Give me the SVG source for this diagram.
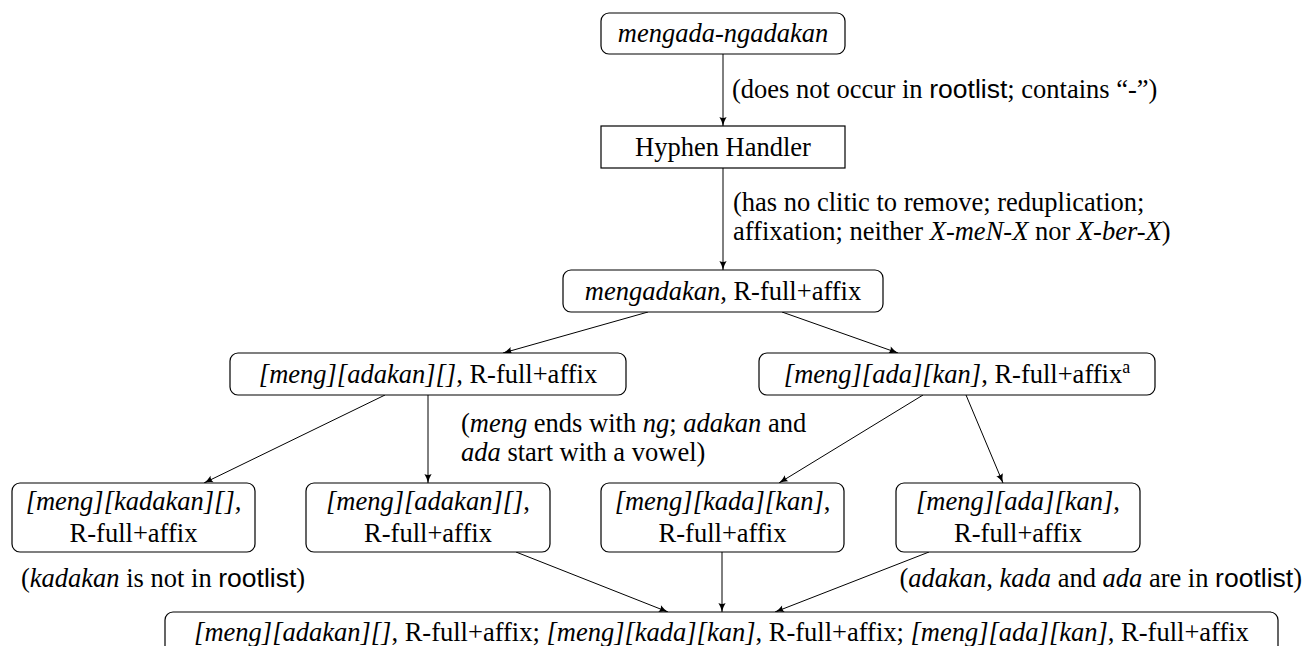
<svg xmlns="http://www.w3.org/2000/svg" width="1305" height="646" viewBox="0 0 1305 646">
<style>
text{font-family:'Liberation Serif','Times New Roman',serif;font-size:26.5px;fill:#000}
.c{text-anchor:middle}
.i{font-style:italic}
.s{font-family:'Liberation Sans',Arial,sans-serif}
.sup{font-size:18px}
.box{fill:#fff;stroke:#000;stroke-width:1.2}
.edge{fill:none;stroke:#000;stroke-width:1;marker-end:url(#ah)}
</style>
<defs>
<marker id="ah" markerUnits="userSpaceOnUse" markerWidth="12" markerHeight="10" refX="9" refY="0" viewBox="-1 -5 11 10" orient="auto">
<path d="M0,-3.6 Q4,-1 9,0 Q4,1 0,3.6 Q2,0 0,-3.6 z" fill="#000"/>
</marker>
</defs>
<rect width="1305" height="646" fill="#fff"/>
<g id="connectors">
<line class="edge" x1="723" y1="54" x2="723" y2="126"/>
<line class="edge" x1="723" y1="168" x2="723" y2="270"/>
<line class="edge" x1="648" y1="312" x2="503" y2="353"/>
<line class="edge" x1="782" y1="312" x2="898" y2="353"/>
<line class="edge" x1="385" y1="395" x2="204" y2="483"/>
<line class="edge" x1="428" y1="395" x2="428" y2="483"/>
<line class="edge" x1="923" y1="395" x2="779" y2="483"/>
<line class="edge" x1="966" y1="395" x2="1003" y2="483"/>
<line class="edge" x1="516" y1="552" x2="668" y2="612"/>
<line class="edge" x1="722" y1="552" x2="722" y2="612"/>
<line class="edge" x1="929" y1="552" x2="775" y2="612"/>
</g>
<g id="labels">
<text x="732" y="98">(does not occur in <tspan class="s">rootlist</tspan>; contains “-”)</text>
<text x="733" y="211">(has no clitic to remove; reduplication;</text>
<text x="733" y="240">affixation; neither <tspan class="i">X-meN-X</tspan> nor <tspan class="i">X-ber-X</tspan>)</text>
<text x="461" y="432">(<tspan class="i">meng</tspan> ends with <tspan class="i">ng</tspan>; <tspan class="i">adakan</tspan> and</text>
<text x="461" y="461"><tspan class="i">ada</tspan> start with a vowel)</text>
<text x="21" y="587">(<tspan class="i">kadakan</tspan> is not in <tspan class="s">rootlist</tspan>)</text>
<text x="1302" y="587" text-anchor="end">(<tspan class="i">adakan</tspan>, <tspan class="i">kada</tspan> and <tspan class="i">ada</tspan> are in <tspan class="s">rootlist</tspan>)</text>
</g>
<g id="n0">
<rect class="box" x="601" y="13" width="244" height="41" rx="8"/>
<text class="c i" x="723" y="42">mengada-ngadakan</text>
</g>
<g id="n1">
<rect class="box" x="601" y="126" width="244" height="42"/>
<text class="c" x="723" y="155.5">Hyphen Handler</text>
</g>
<g id="n2">
<rect class="box" x="563" y="270" width="320" height="42" rx="8"/>
<text class="c" x="723" y="299.5"><tspan class="i">mengadakan</tspan>, R-full+affix</text>
</g>
<g id="n3">
<rect class="box" x="230" y="353" width="396" height="42" rx="8"/>
<text class="c" x="428" y="382.5"><tspan class="i">[meng][adakan][]</tspan>, R-full+affix</text>
</g>
<g id="n4">
<rect class="box" x="759" y="353" width="396" height="42" rx="8"/>
<text class="c" x="957" y="382.5"><tspan class="i">[meng][ada][kan]</tspan>, R-full+affix<tspan class="sup" dy="-10">a</tspan></text>
</g>
<g id="n5">
<rect class="box" x="12" y="483" width="243" height="69" rx="8"/>
<text class="c i" x="133.5" y="509.5">[meng][kadakan][],</text>
<text class="c" x="133.5" y="541.5">R-full+affix</text>
</g>
<g id="n6">
<rect class="box" x="306" y="483" width="244" height="69" rx="8"/>
<text class="c" x="428" y="509.5"><tspan class="i">[meng][adakan][]</tspan>,</text>
<text class="c" x="428" y="541.5">R-full+affix</text>
</g>
<g id="n7">
<rect class="box" x="601" y="483" width="243" height="69" rx="8"/>
<text class="c" x="722.5" y="509.5"><tspan class="i">[meng][kada][kan]</tspan>,</text>
<text class="c" x="722.5" y="541.5">R-full+affix</text>
</g>
<g id="n8">
<rect class="box" x="896" y="483" width="244" height="69" rx="8"/>
<text class="c" x="1018" y="509.5"><tspan class="i">[meng][ada][kan]</tspan>,</text>
<text class="c" x="1018" y="541.5">R-full+affix</text>
</g>
<g id="n9">
<rect class="box" x="165" y="612" width="1113" height="44" rx="8"/>
<text class="c" x="721.5" y="641"><tspan class="i">[meng][adakan][]</tspan>, R-full+affix; <tspan class="i">[meng][kada][kan]</tspan>, R-full+affix; <tspan class="i">[meng][ada][kan]</tspan>, R-full+affix</text>
</g>
</svg>
